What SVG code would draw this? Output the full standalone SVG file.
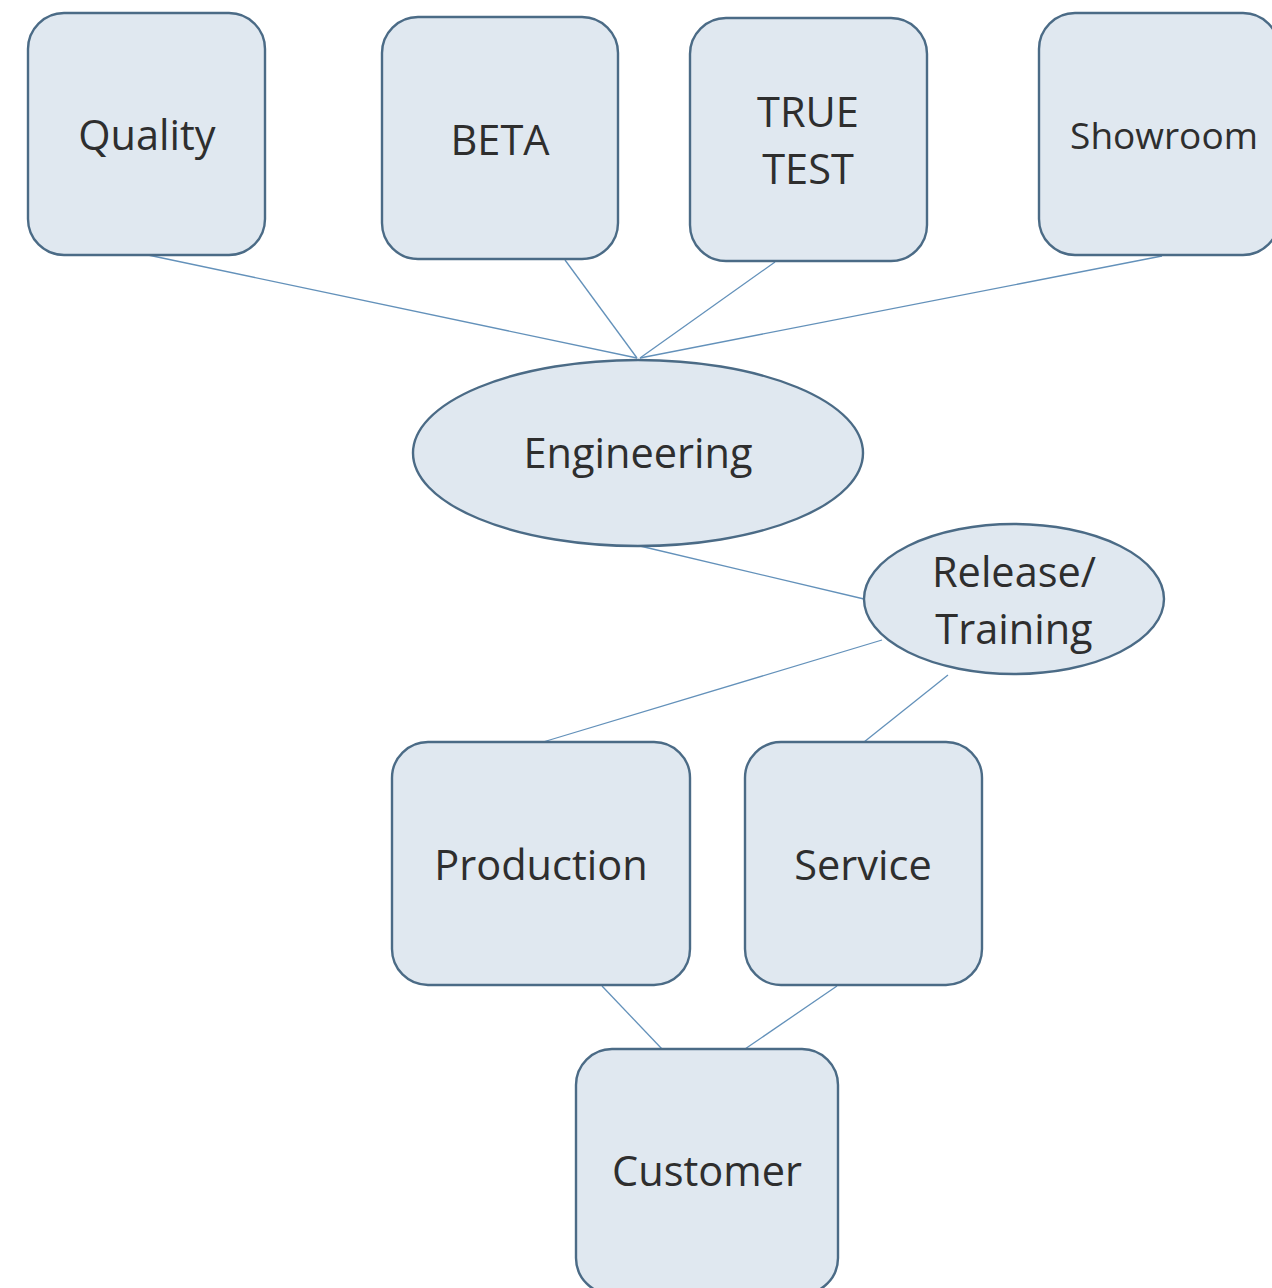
<svg xmlns="http://www.w3.org/2000/svg" width="1272" height="1288" viewBox="0 0 1272 1288">
<style>
.n{fill:#e0e8f0;stroke:#4b6b86;stroke-width:2.4}
.t{font-family:"Open Sans","Noto Sans",sans-serif;font-size:41.5px;fill:#2e2e2e;text-anchor:middle}
.c line{stroke:#6391ba;stroke-width:1.3}
</style>
<rect width="1272" height="1288" fill="#fff"/>
<g class="c" id="connectors">
<line x1="148" y1="255" x2="637" y2="358"/>
<line x1="565" y1="260" x2="637" y2="358"/>
<line x1="775" y1="262" x2="640" y2="358"/>
<line x1="1162" y1="256" x2="640" y2="358"/>
<line x1="640" y1="546" x2="864" y2="599"/>
<line x1="882" y1="640" x2="543" y2="742"/>
<line x1="948" y1="675" x2="864" y2="742"/>
<line x1="602" y1="986" x2="662" y2="1049"/>
<line x1="837" y1="986" x2="745" y2="1049"/>
</g>
<g id="quality"><rect class="n" x="28" y="13" width="237" height="242" rx="36"/><text class="t" x="147" y="150">Quality</text></g>
<g id="beta"><rect class="n" x="382" y="17" width="236" height="242" rx="36"/><text class="t" x="500" y="155">BETA</text></g>
<g id="truetest"><rect class="n" x="690" y="18" width="237" height="243" rx="36"/><text class="t" x="808" y="127">TRUE</text><text class="t" x="808" y="184">TEST</text></g>
<g id="showroom"><rect class="n" x="1039" y="13" width="240" height="242" rx="36"/><text class="t" x="1164" y="149" style="font-size:37px">Showroom</text></g>
<g id="engineering"><ellipse class="n" cx="638" cy="453" rx="225" ry="93"/><text class="t" x="638" y="468">Engineering</text></g>
<g id="release"><ellipse class="n" cx="1014" cy="599" rx="150" ry="75"/><text class="t" x="1014" y="587">Release/</text><text class="t" x="1014" y="644">Training</text></g>
<g id="production"><rect class="n" x="392" y="742" width="298" height="243" rx="36"/><text class="t" x="541" y="880">Production</text></g>
<g id="service"><rect class="n" x="745" y="742" width="237" height="243" rx="36"/><text class="t" x="863" y="880">Service</text></g>
<g id="customer"><rect class="n" x="576" y="1049" width="262" height="245" rx="36"/><text class="t" x="707" y="1186">Customer</text></g>
</svg>
